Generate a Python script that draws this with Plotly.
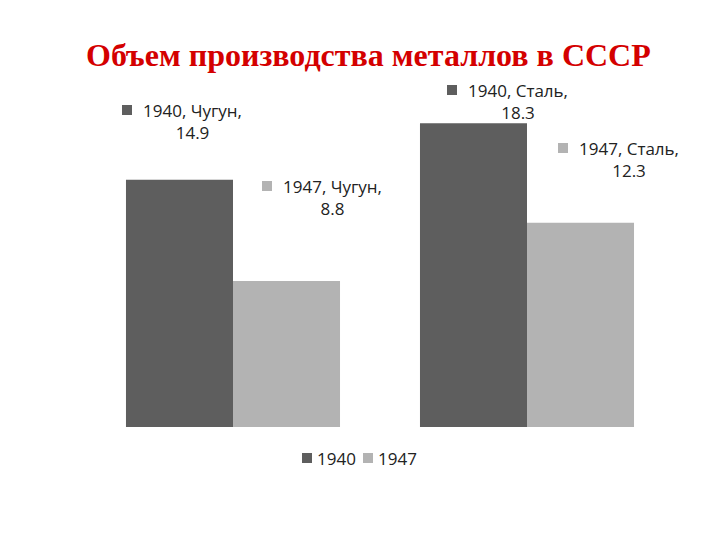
import plotly.graph_objects as go

categories = ["Чугун", "Сталь"]
years = ["1940", "1947"]
values_1940 = [14.9, 18.3]
values_1947 = [8.8, 12.3]
colors = ["#5e5e5e", "#b3b3b3"]
title_text = "Объем производства металлов в СССР"

# label placement (pixel positions of the square marker, in page pixels)
label_pos = {
    ("1940", 0): (127, 110),
    ("1947", 0): (267, 186),
    ("1940", 1): (452, 90),
    ("1947", 1): (563, 148),
}
legend_pos = {"1940": (307, 458), "1947": (368, 458)}

OFF = 8  # body margin of the page
W, H = 720, 540
L, R, T, B = 86 - OFF, 46 + OFF, 95 - OFF, 113 + OFF
PW, PH = W - L - R, H - T - B

def px2paper(x, y):
    x -= OFF
    y -= OFF
    return (x - L) / PW, (H - B - y) / PH

fig = go.Figure()
for yr, vals, col in zip(years, [values_1940, values_1947], colors):
    fig.add_trace(go.Bar(name=yr, x=categories, y=vals, marker=dict(color=col, line=dict(width=0))))

annotations = []
shapes = []
font = dict(family="Open Sans, Lato, sans-serif", size=17, color="#222222")

def square(cx, cy, col, s=10):
    x0, y0 = px2paper(cx - s / 2, cy + s / 2)
    x1, y1 = px2paper(cx + s / 2, cy - s / 2)
    shapes.append(dict(type="rect", xref="paper", yref="paper", x0=x0, x1=x1, y0=y0, y1=y1,
                       fillcolor=col, line=dict(width=0)))

for yr, vals, col in zip(years, [values_1940, values_1947], colors):
    for i, cat in enumerate(categories):
        sx, sy = label_pos[(yr, i)]
        square(sx, sy, col)
        ax, ay = px2paper(sx + 14, sy - 13)
        annotations.append(dict(xref="paper", yref="paper", x=ax, y=ay, xanchor="left", yanchor="top",
                                text=f"{yr}, {cat},<br>{vals[i]}", showarrow=False, align="center",
                                font=font))

for yr, col in zip(years, colors):
    sx, sy = legend_pos[yr]
    square(sx, sy, col)
    ax, ay = px2paper(sx + 8, sy)
    annotations.append(dict(xref="paper", yref="paper", x=ax, y=ay, xanchor="left", yanchor="middle",
                            text=yr, showarrow=False, font=font))

tx, ty = px2paper(368, 55)
annotations.append(dict(xref="paper", yref="paper", x=tx, y=ty,
                        xanchor="center", yanchor="middle", showarrow=False,
                        text=f"<b>{title_text}</b>",
                        font=dict(family="Liberation Serif, serif", size=32, color="#d40000")))

fig.update_layout(
    width=W, height=H,
    margin=dict(l=L, r=R, t=T, b=B),
    paper_bgcolor="white", plot_bgcolor="white",
    barmode="group", bargap=0.272, bargroupgap=0,
    xaxis=dict(range=[-0.5, 1.5], showticklabels=False, showgrid=False, zeroline=False, showline=False, ticks=""),
    yaxis=dict(range=[0, 20], showticklabels=False, showgrid=False, zeroline=False, showline=False, ticks=""),
    showlegend=False,
    annotations=annotations,
    shapes=shapes,
)

fig.write_html("out.html")
